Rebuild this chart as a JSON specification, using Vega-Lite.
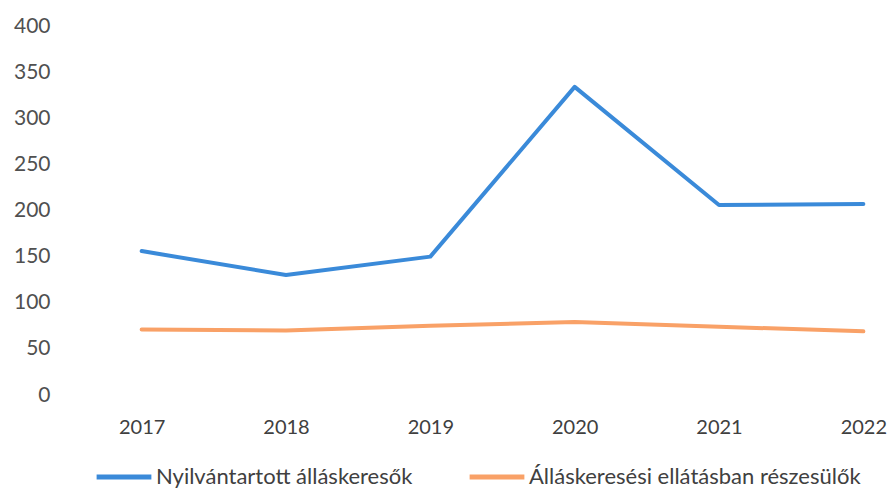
{
  "$schema": "https://vega.github.io/schema/vega-lite/v6.json",
  "width": 765,
  "height": 369,
  "autosize": {"type": "none"},
  "padding": {"left": 120, "top": 26, "right": 4, "bottom": 95},
  "background": "white",
  "config": {
    "view": {"stroke": null},
    "font": "Lato"
  },
  "data": {
    "values": [
      {"ev": "2017", "sorozat": "Nyilvántartott álláskeresők", "ertek": 156},
      {"ev": "2018", "sorozat": "Nyilvántartott álláskeresők", "ertek": 130},
      {"ev": "2019", "sorozat": "Nyilvántartott álláskeresők", "ertek": 150},
      {"ev": "2020", "sorozat": "Nyilvántartott álláskeresők", "ertek": 334},
      {"ev": "2021", "sorozat": "Nyilvántartott álláskeresők", "ertek": 206},
      {"ev": "2022", "sorozat": "Nyilvántartott álláskeresők", "ertek": 207},
      {"ev": "2017", "sorozat": "Álláskeresési ellátásban részesülők", "ertek": 71},
      {"ev": "2018", "sorozat": "Álláskeresési ellátásban részesülők", "ertek": 70},
      {"ev": "2019", "sorozat": "Álláskeresési ellátásban részesülők", "ertek": 75},
      {"ev": "2020", "sorozat": "Álláskeresési ellátásban részesülők", "ertek": 79},
      {"ev": "2021", "sorozat": "Álláskeresési ellátásban részesülők", "ertek": 74},
      {"ev": "2022", "sorozat": "Álláskeresési ellátásban részesülők", "ertek": 69}
    ]
  },
  "mark": {"type": "line", "strokeWidth": 4, "strokeCap": "round", "strokeJoin": "round"},
  "encoding": {
    "x": {
      "field": "ev", "type": "ordinal",
      "scale": {"type": "point", "padding": 0.15},
      "axis": {"title": null, "labelAngle": 0, "domain": false, "ticks": false, "grid": false,
               "labelFontSize": 20, "labelColor": "#404040", "labelPadding": 22}
    },
    "y": {
      "field": "ertek", "type": "quantitative",
      "scale": {"domain": [0, 400]},
      "axis": {"title": null, "values": [0, 50, 100, 150, 200, 250, 300, 350, 400], "domain": false, "ticks": false, "grid": false,
               "labelFontSize": 21, "labelColor": "#505050", "labelPadding": 70}
    },
    "color": {
      "field": "sorozat", "type": "nominal",
      "scale": {"domain": ["Nyilvántartott álláskeresők", "Álláskeresési ellátásban részesülők"], "range": ["#3a8ad9", "#f9a167"]},
      "legend": {"title": null, "orient": "none", "legendX": -26, "legendY": 421, "direction": "horizontal", "symbolType": "stroke",
                 "symbolSize": 3000, "symbolStrokeWidth": 5, "labelFontSize": 22, "labelColor": "#404040", "labelLimit": 500,
                 "columnPadding": 46, "labelOffset": 2}
    }
  }
}
